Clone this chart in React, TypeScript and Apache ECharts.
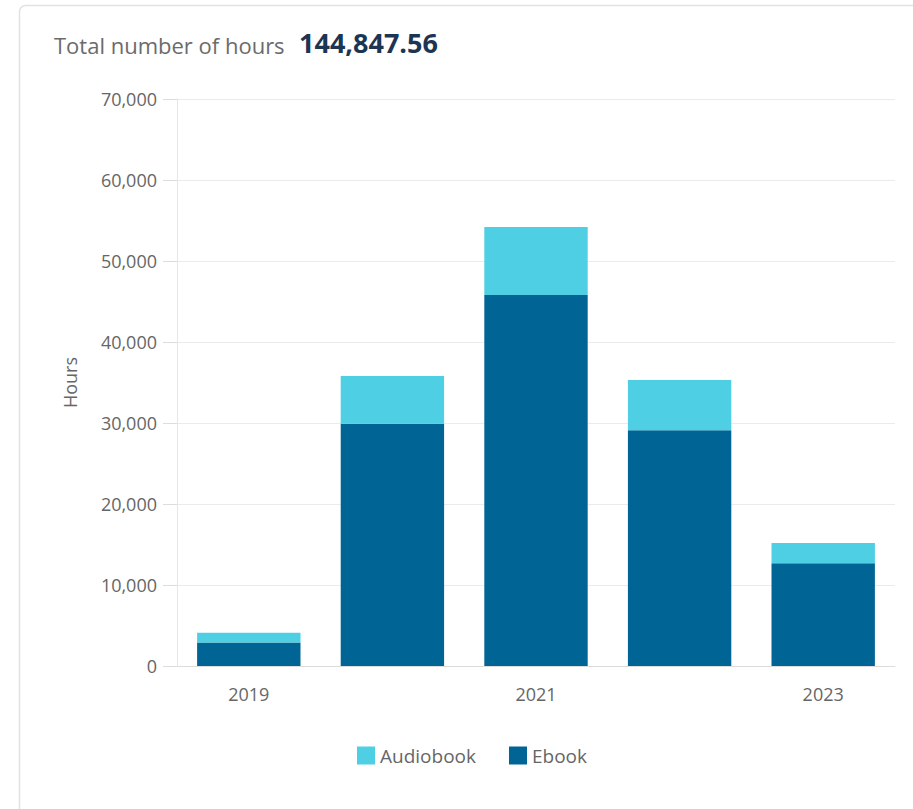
import React, { useEffect, useRef } from "react";
import * as echarts from "echarts";

const years = ["2019", "2020", "2021", "2022", "2023"];
const ebook = [2900, 29900, 45800, 29100, 12700];
const audiobook = [1200, 5900, 8400, 6200, 2500];
const totalLabel = "Total number of hours";
const totalValue = "144,847.56";
const yTicks = { min: 0, max: 70000, interval: 10000 };

export default function App() {
  const ref = useRef<HTMLDivElement>(null);
  useEffect(() => {
    const chart = echarts.init(ref.current!, null, { renderer: "svg" });
    const font = "'Open Sans', sans-serif";
    chart.setOption({
      animation: false,
      backgroundColor: "#ffffff",
      textStyle: { fontFamily: font },
      graphic: [
        {
          type: "rect",
          shape: { x: 19.5, y: 5.5, width: 920, height: 830, r: 6 },
          style: { fill: "#ffffff", stroke: "#e2e2e2", lineWidth: 1.5 },
          z: -10,
        },
        {
          type: "text",
          left: 54,
          top: 34,
          style: { text: totalLabel, font: `22px ${font}`, fill: "#6b6b6b" },
        },
        {
          type: "text",
          left: 299,
          top: 29,
          style: { text: totalValue, font: `bold 27px ${font}`, fill: "#1c3553" },
        },
      ],
      grid: { left: 177, right: 18, top: 99, bottom: 143 },
      legend: {
        left: 352,
        top: 741,
        itemWidth: 18,
        itemHeight: 18,
        itemGap: 33,
        icon: "rect",
        textStyle: { fontSize: 19, color: "#666", fontFamily: font },
        data: ["Audiobook", "Ebook"],
      },
      xAxis: {
        type: "category",
        data: years,
        axisLine: { lineStyle: { color: "#dcdcdc" } },
        axisTick: { show: false },
        axisLabel: { interval: 1, fontSize: 18, color: "#666", margin: 19, fontFamily: font },
      },
      yAxis: {
        type: "value",
        min: yTicks.min,
        max: yTicks.max,
        interval: yTicks.interval,
        name: "Hours",
        nameLocation: "middle",
        nameGap: 98,
        nameTextStyle: { fontSize: 18, color: "#666", fontFamily: font },
        axisLine: { show: true, lineStyle: { color: "#e6e6e6" } },
        axisTick: { show: true, length: 14, lineStyle: { color: "#dcdcdc" } },
        axisLabel: {
          fontSize: 18,
          color: "#666",
          margin: 20,
          fontFamily: font,
          formatter: (v: number) => v.toLocaleString("en-US"),
        },
        splitLine: { lineStyle: { color: "#ebebeb" } },
      },
      series: [
        {
          name: "Ebook",
          type: "bar",
          stack: "total",
          data: ebook,
          barCategoryGap: "28%",
          itemStyle: { color: "#006594" },
        },
        {
          name: "Audiobook",
          type: "bar",
          stack: "total",
          data: audiobook,
          itemStyle: { color: "#4ecfe3" },
        },
      ],
    });
    return () => chart.dispose();
  }, []);
  return (
    <div
      ref={ref}
      style={{ position: "absolute", left: 0, top: 0, width: 913, height: 809 }}
    />
  );
}
